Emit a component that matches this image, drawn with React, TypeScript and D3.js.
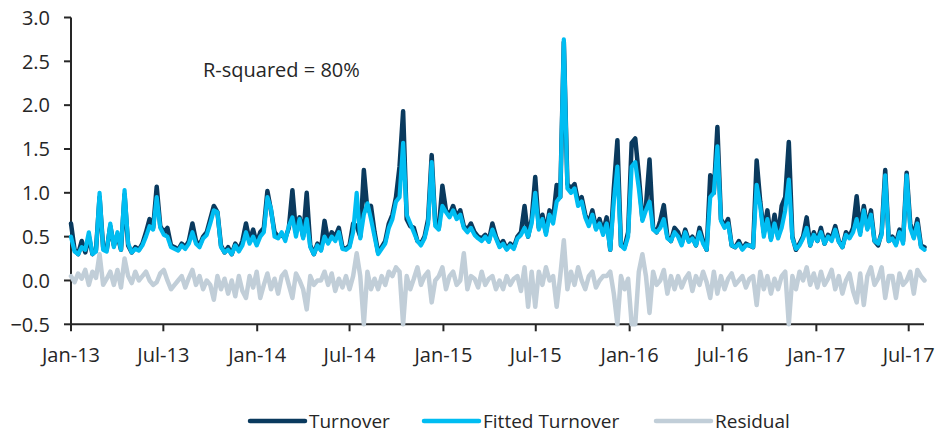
import React from 'react';
import * as d3 from 'd3';

const startDate = new Date(2013, 0, 1);
const endDate = new Date(2017, 6, 31);

const xTickLabels = ['Jan-13', 'Jul-13', 'Jan-14', 'Jul-14', 'Jan-15', 'Jul-15', 'Jan-16', 'Jul-16', 'Jan-17', 'Jul-17'];
const xTickDates = [
  new Date(2013, 0, 1), new Date(2013, 6, 1), new Date(2014, 0, 1), new Date(2014, 6, 1),
  new Date(2015, 0, 1), new Date(2015, 6, 1), new Date(2016, 0, 1), new Date(2016, 6, 1),
  new Date(2017, 0, 1), new Date(2017, 6, 1),
];
const yTicks = [-0.5, 0, 0.5, 1.0, 1.5, 2.0, 2.5, 3.0];

const seriesNames = ['Turnover', 'Fitted Turnover', 'Residual'];
const seriesColors = ['#0a3a5e', '#00bdf2', '#c1ced8'];

// weekly readings
const turnover = [
  .65, .35, .30, .45, .32, .50, .30, .35, .95, .38,
  .35, .62, .40, .52, .35, .98, .40, .32, .38, .35,
  .42, .55, .70, .60, 1.07, .62, .55, .60, .40, .38,
  .35, .42, .38, .45, .65, .45, .40, .50, .55, .70,
  .85, .78, .40, .32, .38, .30, .42, .35, .45, .65,
  .45, .58, .42, .55, .60, 1.02, .80, .55, .50, .52,
  .48, .60, 1.03, .55, .72, .50, 1.00, .40, .30, .42,
  .35, .68, .45, .55, .50, .60, .38, .36, .40, .65,
  .62, .50, 1.26, .80, .85, .55, .32, .38, .45, .65,
  .75, .95, 1.30, 1.93, .70, .62, .60, .45, .42, .50,
  .70, 1.43, .65, .60, 1.08, .80, .75, .85, .72, .80,
  .62, .58, .65, .55, .50, .48, .52, .45, .65, .50,
  .40, .45, .36, .42, .38, .50, .55, .85, .50, .70,
  1.18, .60, .75, .55, .80, .70, 1.09, .95, 2.72, 1.10,
  1.05, 1.10, .90, .95, .75, .65, .80, .60, .70, .55,
  .72, .35, 1.05, 1.60, .40, .38, .55, 1.57, 1.62, 1.20,
  .70, .85, 1.38, .60, .55, .68, .86, .50, .45, .60,
  .55, .42, .58, .45, .50, .40, .60, .45, .35, 1.20,
  1.00, 1.75, .70, .62, .70, .40, .38, .45, .36, .42,
  .40, .38, 1.37, .90, .55, .80, .48, .75, .50, .85,
  .95, 1.58, .50, .35, .42, .50, .72, .40, .55, .45,
  .60, .42, .52, .48, .62, .45, .38, .55, .50, .60,
  .96, .55, .85, .60, .80, .45, .40, .55, 1.26, .45,
  .50, .42, .58, .45, 1.23, .65, .50, .70, .40, .38,
];

const fitted = [
  .50, .33, .30, .38, .35, .55, .30, .33, 1.00, .35,
  .33, .65, .38, .55, .35, 1.03, .42, .32, .36, .34,
  .40, .50, .62, .58, .95, .60, .52, .50, .38, .36,
  .34, .40, .36, .42, .55, .42, .38, .48, .52, .65,
  .80, .78, .38, .32, .35, .30, .40, .33, .40, .55,
  .42, .50, .40, .50, .55, .95, .82, .50, .48, .55,
  .45, .62, .72, .50, .70, .48, .70, .38, .30, .40,
  .34, .50, .42, .50, .45, .55, .36, .35, .38, .55,
  1.00, .48, .75, .88, .70, .50, .30, .36, .42, .60,
  .70, .90, .95, 1.57, .75, .65, .55, .45, .40, .48,
  .65, 1.35, .62, .58, .85, .78, .72, .80, .70, .75,
  .60, .55, .60, .52, .48, .45, .50, .44, .58, .48,
  .38, .42, .35, .40, .36, .48, .52, .60, .50, .65,
  1.00, .58, .70, .52, .75, .65, .90, .95, 2.75, 1.05,
  1.00, 1.05, .85, .90, .72, .62, .75, .58, .65, .52,
  .65, .35, .90, 1.30, .40, .36, .50, 1.30, 1.35, 1.05,
  .68, .80, .90, .58, .55, .60, .70, .48, .45, .55,
  .50, .40, .55, .44, .48, .40, .55, .42, .35, .95,
  1.00, 1.53, .68, .60, .65, .40, .38, .42, .35, .40,
  .40, .38, 1.09, .85, .50, .70, .46, .65, .48, .60,
  .80, 1.15, .48, .36, .40, .48, .60, .40, .52, .45,
  .55, .42, .50, .45, .58, .44, .38, .52, .48, .55,
  .70, .52, .80, .58, .75, .45, .42, .52, 1.20, .45,
  .48, .40, .55, .42, 1.20, .60, .48, .65, .38, .35,
];

const residual = [
  .05, -.02, .08, .02, .12, -.05, .10, .03, .30, -.05,
  .02, .10, -.05, .12, -.08, .25, .05, -.03, .10, .00,
  .05, .10, .00, -.05, -.02, .08, .12, .00, -.10, -.05,
  .00, .05, -.08, .03, .12, -.05, .05, -.10, .00, -.05,
  -.22, .05, -.10, .02, -.15, .00, -.18, .05, -.12, -.20,
  .05, -.08, .10, -.20, -.05, .08, -.10, .02, -.15, .05,
  .10, -.05, -.20, .08, .00, -.10, -.33, .05, -.05, .00,
  .00, .10, -.05, .08, -.12, .02, -.08, .05, -.10, .05,
  .31, .05, -.50, .10, -.10, .02, -.10, .05, -.05, .10,
  .05, .15, .10, -.50, .05, -.10, .02, .15, -.05, .05,
  .10, -.25, .00, .05, .15, -.10, .05, .10, -.05, .00,
  .31, -.10, .05, .02, -.08, .10, -.05, .02, .05, -.10,
  .00, -.10, .05, -.05, .02, .05, -.12, .15, -.30, .10,
  -.30, .10, -.05, .15, .00, .05, -.30, .05, .46, -.10,
  .10, -.05, .15, .00, -.10, .05, .10, -.08, .00, .05,
  .05, .10, -.15, -.50, .05, -.10, .02, -.50, -.50, .10,
  .30, .05, -.37, .10, -.05, .00, .12, -.15, .05, -.10,
  .05, -.08, .02, .08, -.12, .05, -.05, .10, -.02, -.20,
  .10, -.15, .05, -.10, .02, .08, -.05, .00, .05, -.08,
  .02, .05, -.28, .10, -.10, .05, -.15, .02, -.10, .05,
  .10, -.50, .05, -.10, .10, .00, .15, -.05, .08, -.08,
  .10, -.05, .02, .12, -.10, .05, -.15, .00, .08, -.12,
  -.25, .08, -.28, .05, .15, -.05, .02, .15, -.20, .05,
  .05, -.20, .08, -.05, .00, .10, -.15, .12, .05, .00,
];

const W = 948;
const H = 433;
const FONT = '"Open Sans", "Noto Sans", sans-serif';

export default function App() {
  const dates = turnover.map((_, i) => d3.timeDay.offset(startDate, 7 * i));
  const x = d3.scaleTime().domain([startDate, endDate]).range([71, 924]);
  const y = d3.scaleLinear().domain([-0.5, 3.0]).range([324.3, 17.5]);
  const fmt = d3.format('.1f');

  const line = d3
    .line<number>()
    .x((_, i) => x(dates[i]))
    .y((d) => y(d));

  const series = [residual, turnover, fitted];
  const seriesColorOrder = [seriesColors[2], seriesColors[0], seriesColors[1]];
  const seriesWidths = [4.5, 4.5, 4.2];

  const axisColor = '#262626';
  const textColor = '#262626';
  const x0 = x.range()[0];
  const yBottom = y(-0.5);

  const legendX = [250, 424, 656];

  return (
    <svg
      width={W}
      height={H}
      style={{ position: 'absolute', left: 0, top: 0, background: '#fff' }}
      fontFamily={FONT}
    >
      {/* y axis */}
      <line x1={x0} x2={x0} y1={y(3.0)} y2={yBottom} stroke={axisColor} strokeWidth={2} />
      {yTicks.map((t) => (
        <g key={t}>
          <line x1={x0 - 7} x2={x0} y1={y(t)} y2={y(t)} stroke={axisColor} strokeWidth={2} />
          <text x={50} y={y(t)} dy="0.36em" textAnchor="end" fontSize={20} fill={textColor}>
            {fmt(t)}
          </text>
        </g>
      ))}
      {/* x axis */}
      <line x1={x0} x2={x.range()[1]} y1={yBottom} y2={yBottom} stroke={axisColor} strokeWidth={2} />
      {xTickDates.map((d, i) => (
        <g key={xTickLabels[i]}>
          <line x1={x(d)} x2={x(d)} y1={yBottom} y2={yBottom + 7} stroke={axisColor} strokeWidth={2} />
          <text x={x(d)} y={362} textAnchor="middle" fontSize={20} fill={textColor}>
            {xTickLabels[i]}
          </text>
        </g>
      ))}

      {/* series */}
      {series.map((s, i) => (
        <path
          key={i}
          d={line(s) || ''}
          fill="none"
          stroke={seriesColorOrder[i]}
          strokeWidth={seriesWidths[i]}
          strokeLinejoin="round"
          strokeLinecap="round"
        />
      ))}

      <text x={203} y={77} fontSize={20} fill={textColor}>
        R-squared = 80%
      </text>

      {/* legend */}
      {seriesNames.map((name, i) => (
        <g key={name}>
          <line
            x1={legendX[i]}
            x2={legendX[i] + 55}
            y1={421}
            y2={421}
            stroke={seriesColors[i]}
            strokeWidth={4.5}
            strokeLinecap="round"
          />
          <text x={legendX[i] + 59} y={428} fontSize={19} fill={textColor}>
            {name}
          </text>
        </g>
      ))}
    </svg>
  );
}
